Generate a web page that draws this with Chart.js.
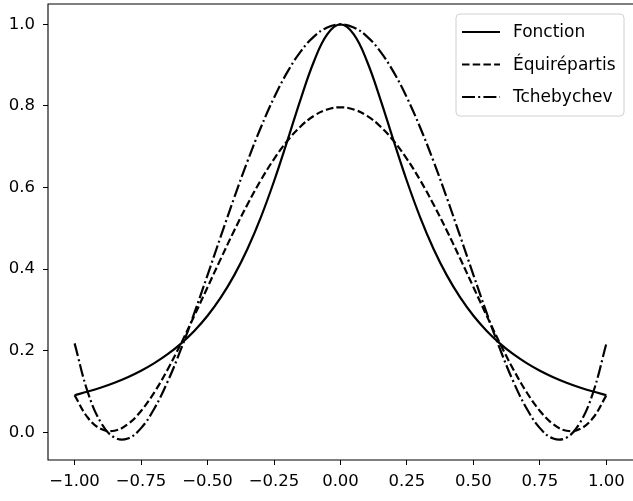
<!DOCTYPE html>
<html>
<head>
<meta charset="utf-8">
<script src="https://cdn.jsdelivr.net/npm/chart.js@4.4.1/dist/chart.umd.min.js"></script>
<style>
  html, body { margin: 0; padding: 0; background: #fff; }
  #wrap { width: 633px; height: 501px; }
</style>
</head>
<body>
<div id="wrap"><canvas id="graphe"></canvas></div>
<script>
// abscisses (pas de 0.05)
const xs = [
  -1.00, -0.95, -0.90, -0.85, -0.80, -0.75, -0.70, -0.65, -0.60, -0.55, -0.50,
  -0.45, -0.40, -0.35, -0.30, -0.25, -0.20, -0.15, -0.10, -0.05, 0.00,
  0.05, 0.10, 0.15, 0.20, 0.25, 0.30, 0.35, 0.40, 0.45, 0.50,
  0.55, 0.60, 0.65, 0.70, 0.75, 0.80, 0.85, 0.90, 0.95, 1.00
];

const fonction = [
  0.0909, 0.0998, 0.1099, 0.1216, 0.1351, 0.1509, 0.1695, 0.1914, 0.2174, 0.2485, 0.2857,
  0.3306, 0.3846, 0.4494, 0.5263, 0.6154, 0.7143, 0.8163, 0.9091, 0.9756, 1.0000,
  0.9756, 0.9091, 0.8163, 0.7143, 0.6154, 0.5263, 0.4494, 0.3846, 0.3306, 0.2857,
  0.2485, 0.2174, 0.1914, 0.1695, 0.1509, 0.1351, 0.1216, 0.1099, 0.0998, 0.0909
];

const equirepartis = [
  0.0909, 0.0355, 0.0078, 0.0038, 0.0198, 0.0523, 0.0981, 0.1541, 0.2174, 0.2854, 0.3556,
  0.4258, 0.4941, 0.5585, 0.6176, 0.6699, 0.7143, 0.7498, 0.7757, 0.7914, 0.7967,
  0.7914, 0.7757, 0.7498, 0.7143, 0.6699, 0.6176, 0.5585, 0.4941, 0.4258, 0.3556,
  0.2854, 0.2174, 0.1541, 0.0981, 0.0523, 0.0198, 0.0038, 0.0078, 0.0355, 0.0909
];

const tchebychev = [
  0.2179, 0.0975, 0.0226, -0.0131, -0.0154, 0.0101, 0.0583, 0.1243, 0.2036, 0.2919, 0.3855,
  0.4807, 0.5745, 0.6640, 0.7466, 0.8202, 0.8829, 0.9333, 0.9701, 0.9925, 1.0000,
  0.9925, 0.9701, 0.9333, 0.8829, 0.8202, 0.7466, 0.6640, 0.5745, 0.4807, 0.3855,
  0.2919, 0.2036, 0.1243, 0.0583, 0.0101, -0.0154, -0.0131, 0.0226, 0.0975, 0.2179
];

const xTicks = [-1.00, -0.75, -0.50, -0.25, 0.00, 0.25, 0.50, 0.75, 1.00];
const yTicks = [0.0, 0.2, 0.4, 0.6, 0.8, 1.0];

const legende = ["Fonction", "Équirépartis", "Tchebychev"];
const tirets = [[], [7.5, 3.2], [13, 3.2, 2, 3.2]];

const police = "'DejaVu Sans', sans-serif";

function pts(ys) {
  return xs.map((x, i) => ({ x: x, y: ys[i] }));
}

function moins(s) {
  return s.replace("-", "\u2212");
}

// cadre : gauche, haut, bas (le côté droit sort de l'image)
const cadre = {
  id: "cadre",
  afterDatasetsDraw(chart) {
    const a = chart.chartArea;
    const c = chart.ctx;
    c.save();
    c.strokeStyle = "#000";
    c.lineWidth = 1.1;
    c.beginPath();
    c.moveTo(chart.width + 2, a.top);
    c.lineTo(a.left, a.top);
    c.lineTo(a.left, a.bottom);
    c.lineTo(chart.width + 2, a.bottom);
    c.stroke();
    c.restore();
  }
};

// légende façon matplotlib
const boite = {
  id: "boite",
  afterDraw(chart) {
    const c = chart.ctx;
    const x0 = 456, y0 = 14, w = 168, h = 102, r = 4;
    c.save();
    c.beginPath();
    c.moveTo(x0 + r, y0);
    c.arcTo(x0 + w, y0, x0 + w, y0 + h, r);
    c.arcTo(x0 + w, y0 + h, x0, y0 + h, r);
    c.arcTo(x0, y0 + h, x0, y0, r);
    c.arcTo(x0, y0, x0 + w, y0, r);
    c.closePath();
    c.fillStyle = "rgba(255,255,255,0.8)";
    c.fill();
    c.strokeStyle = "#d0d0d0";
    c.lineWidth = 1;
    c.stroke();

    const lignes = [32, 64.5, 97];
    c.font = "17px " + police;
    c.textBaseline = "middle";
    c.fillStyle = "#000";
    legende.forEach((txt, i) => {
      c.beginPath();
      c.setLineDash(tirets[i]);
      c.lineWidth = 2.2;
      c.strokeStyle = "#000";
      c.moveTo(462, lignes[i]);
      c.lineTo(500, lignes[i]);
      c.stroke();
      c.setLineDash([]);
      c.fillText(txt, 513, lignes[i] + 1);
    });
    c.restore();
  }
};

const ctx = document.getElementById("graphe");

new Chart(ctx, {
  type: "line",
  data: {
    datasets: [
      { label: legende[0], data: pts(fonction), borderDash: tirets[0] },
      { label: legende[1], data: pts(equirepartis), borderDash: tirets[1] },
      { label: legende[2], data: pts(tchebychev), borderDash: tirets[2] }
    ].map(d => Object.assign(d, {
      borderColor: "#000",
      borderWidth: 2.2,
      pointRadius: 0,
      tension: 0.4,
      fill: false
    }))
  },
  options: {
    responsive: true,
    maintainAspectRatio: false,
    animation: false,
    layout: { padding: { top: 4, left: 0, right: -1, bottom: 0 } },
    plugins: {
      legend: { display: false },
      tooltip: { enabled: false }
    },
    scales: {
      x: {
        type: "linear",
        min: -1.1,
        max: 1.1,
        afterBuildTicks: s => { s.ticks = xTicks.map(v => ({ value: v })); },
        afterFit: s => {
          s.height = 41;
          s.paddingLeft = 0;
          s.paddingRight = 0;
        },
        ticks: {
          color: "#000",
          padding: 7,
          maxRotation: 0,
          autoSkip: false,
          font: { family: police, size: 16.5 },
          callback: v => moins(v.toFixed(2))
        },
        grid: { drawOnChartArea: false, drawTicks: true, tickLength: 5, color: "#000", lineWidth: 1 },
        border: { display: false }
      },
      y: {
        min: -0.068,
        max: 1.05,
        afterBuildTicks: s => { s.ticks = yTicks.map(v => ({ value: v })); },
        afterFit: s => {
          s.width = 48;
          s.paddingTop = 0;
          s.paddingBottom = 0;
        },
        ticks: {
          color: "#000",
          padding: 8,
          autoSkip: false,
          font: { family: police, size: 16.5 },
          callback: v => v.toFixed(1)
        },
        grid: { drawOnChartArea: false, drawTicks: true, tickLength: 5, color: "#000", lineWidth: 1 },
        border: { display: false }
      }
    }
  },
  plugins: [cadre, boite]
});
</script>
</body>
</html>
